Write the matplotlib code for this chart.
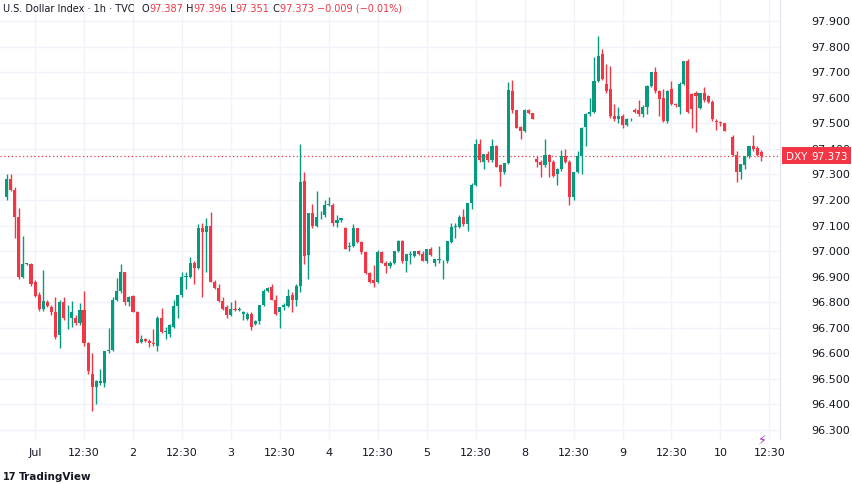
import matplotlib.pyplot as plt
from matplotlib.patches import Rectangle

# hourly candles, hour 0 = Jul 1 00:00 (bar index, gaps kept)
hours = list(range(-7, 170)) + list(range(171, 179))

opens = [97.21, 97.28, 97.24, 97.135, 96.90, 96.95, 96.95, 96.88, 96.83, 96.775,
         96.80, 96.78, 96.76, 96.67, 96.80, 96.745, 96.74, 96.74, 96.72, 96.77,
         96.64, 96.52, 96.47, 96.485, 96.485, 96.61, 96.615, 96.81, 96.845, 96.92,
         96.80, 96.825, 96.76, 96.645, 96.655, 96.65, 96.64, 96.63, 96.74, 96.685,
         96.675, 96.705, 96.785, 96.83, 96.90, 96.90, 96.955, 96.935, 97.09, 97.075,
         97.10, 96.88, 96.855, 96.805, 96.78, 96.75, 96.775, 96.77, 96.755, 96.735,
         96.755, 96.715, 96.725, 96.79, 96.845, 96.86, 96.81, 96.76, 96.78, 96.785,
         96.83, 96.81, 96.865, 97.275, 96.985, 97.15, 97.10, 97.14, 97.14, 97.18,
         97.18, 97.11, 97.12, 97.09, 97.015, 97.02, 97.09, 97.035, 96.995, 96.915,
         96.885, 96.88, 96.995, 96.955, 96.94, 96.955, 97.00, 97.04, 96.96, 96.985,
         96.98, 97.00, 96.99, 96.96, 97.01, 96.955, 96.965, 96.96, 96.96, 97.035,
         97.095, 97.095, 97.135, 97.105, 97.19, 97.26, 97.42, 97.35, 97.38, 97.355,
         97.41, 97.335, 97.31, 97.345, 97.625, 97.55, 97.485, 97.47, 97.55, 97.54,
         97.36, 97.35, 97.335, 97.375, 97.35, 97.30, 97.32, 97.37, 97.35, 97.21,
         97.31, 97.37, 97.485, 97.535, 97.545, 97.665, 97.77, 97.655, 97.635, 97.53,
         97.515, 97.53, 97.495, 97.515, 97.55, 97.55, 97.535, 97.565, 97.645, 97.70,
         97.625, 97.60, 97.51, 97.635, 97.575, 97.565, 97.655, 97.745, 97.615, 97.62,
         97.56, 97.62, 97.605, 97.585, 97.51, 97.505, 97.50, 97.445, 97.375, 97.31,
         97.335, 97.37, 97.41, 97.405, 97.387]
highs = [97.30, 97.30, 97.25, 97.17, 97.06, 96.955, 96.955, 96.885, 96.84, 96.925,
         96.81, 96.79, 96.82, 96.81, 96.82, 96.79, 96.805, 96.75, 96.795, 96.845,
         96.645, 96.60, 96.495, 96.54, 96.61, 96.70, 96.82, 96.895, 96.95, 96.92,
         96.825, 96.83, 96.765, 96.67, 96.66, 96.655, 96.695, 96.745, 96.777, 96.705,
         96.715, 96.81, 96.83, 96.92, 96.92, 96.975, 96.96, 97.106, 97.11, 97.13,
         97.153, 96.885, 96.87, 96.82, 96.79, 96.80, 96.81, 96.78, 96.765, 96.76,
         96.76, 96.73, 96.79, 96.85, 96.86, 96.87, 96.83, 96.78, 96.795, 96.85,
         96.84, 96.87, 97.42, 97.31, 97.15, 97.185, 97.235, 97.155, 97.20, 97.21,
         97.19, 97.14, 97.13, 97.095, 97.035, 97.105, 97.09, 97.04, 97.00, 96.92,
         96.945, 97.005, 97.00, 96.96, 96.96, 97.00, 97.045, 97.045, 96.99, 97.00,
         97.00, 97.005, 97.00, 97.01, 97.015, 96.97, 97.02, 96.965, 97.04, 97.11,
         97.11, 97.14, 97.165, 97.19, 97.265, 97.44, 97.44, 97.38, 97.39, 97.44,
         97.415, 97.34, 97.345, 97.66, 97.67, 97.55, 97.49, 97.555, 97.555, 97.54,
         97.37, 97.355, 97.44, 97.38, 97.355, 97.325, 97.395, 97.40, 97.355, 97.31,
         97.39, 97.485, 97.54, 97.60, 97.76, 97.84, 97.79, 97.73, 97.725, 97.575,
         97.565, 97.535, 97.52, 97.52, 97.56, 97.59, 97.57, 97.65, 97.70, 97.72,
         97.63, 97.635, 97.63, 97.665, 97.58, 97.66, 97.745, 97.75, 97.62, 97.625,
         97.62, 97.64, 97.61, 97.59, 97.515, 97.51, 97.50, 97.455, 97.39, 97.34,
         97.37, 97.41, 97.455, 97.41, 97.396]
lows = [97.20, 97.235, 97.05, 96.89, 96.895, 96.945, 96.865, 96.82, 96.765, 96.765,
        96.78, 96.75, 96.655, 96.62, 96.73, 96.695, 96.705, 96.71, 96.71, 96.63,
        96.52, 96.375, 96.40, 96.475, 96.47, 96.60, 96.61, 96.805, 96.836, 96.79,
        96.785, 96.76, 96.64, 96.64, 96.645, 96.625, 96.63, 96.61, 96.68, 96.655,
        96.665, 96.70, 96.74, 96.82, 96.85, 96.895, 96.87, 96.93, 96.82, 96.92,
        96.88, 96.85, 96.80, 96.77, 96.74, 96.745, 96.765, 96.765, 96.73, 96.73,
        96.69, 96.71, 96.715, 96.785, 96.84, 96.81, 96.75, 96.70, 96.77, 96.78,
        96.76, 96.785, 96.84, 96.95, 96.89, 97.09, 97.095, 97.125, 97.135, 97.175,
        97.10, 97.095, 97.115, 97.01, 97.00, 97.015, 97.03, 96.99, 96.91, 96.875,
        96.86, 96.875, 96.955, 96.915, 96.935, 96.95, 96.995, 96.955, 96.92, 96.95,
        96.975, 96.985, 96.96, 96.955, 96.98, 96.94, 96.955, 96.89, 96.955, 97.03,
        97.05, 97.09, 97.10, 97.08, 97.165, 97.255, 97.35, 97.32, 97.35, 97.35,
        97.33, 97.255, 97.30, 97.34, 97.54, 97.48, 97.44, 97.465, 97.535, 97.515,
        97.33, 97.29, 97.33, 97.29, 97.29, 97.26, 97.315, 97.345, 97.18, 97.20,
        97.305, 97.30, 97.41, 97.53, 97.54, 97.66, 97.67, 97.62, 97.52, 97.51,
        97.50, 97.48, 97.49, 97.51, 97.54, 97.53, 97.525, 97.535, 97.64, 97.62,
        97.53, 97.505, 97.50, 97.57, 97.565, 97.535, 97.65, 97.54, 97.48, 97.465,
        97.555, 97.585, 97.58, 97.51, 97.475, 97.49, 97.47, 97.37, 97.27, 97.28,
        97.32, 97.365, 97.39, 97.37, 97.351]
closes = [97.28, 97.24, 97.135, 96.90, 96.95, 96.95, 96.87, 96.825, 96.775, 96.805,
          96.785, 96.76, 96.665, 96.80, 96.74, 96.745, 96.76, 96.72, 96.77, 96.64,
          96.53, 96.47, 96.49, 96.49, 96.61, 96.615, 96.81, 96.845, 96.92, 96.80,
          96.82, 96.76, 96.64, 96.655, 96.65, 96.64, 96.635, 96.74, 96.685, 96.685,
          96.71, 96.785, 96.83, 96.90, 96.90, 96.955, 96.935, 97.09, 97.075, 97.10,
          96.88, 96.855, 96.805, 96.775, 96.75, 96.775, 96.77, 96.775, 96.76, 96.755,
          96.705, 96.725, 96.79, 96.845, 96.855, 96.81, 96.755, 96.78, 96.79, 96.825,
          96.81, 96.865, 97.27, 96.98, 97.15, 97.10, 97.135, 97.14, 97.18, 97.185,
          97.11, 97.12, 97.13, 97.01, 97.02, 97.09, 97.035, 96.995, 96.915, 96.88,
          96.875, 96.995, 96.955, 96.94, 96.955, 97.00, 97.04, 96.96, 96.99, 96.985,
          97.00, 96.99, 96.96, 97.01, 96.985, 96.97, 96.965, 96.96, 97.04, 97.095,
          97.10, 97.135, 97.105, 97.19, 97.26, 97.42, 97.355, 97.38, 97.355, 97.41,
          97.33, 97.31, 97.345, 97.63, 97.55, 97.48, 97.47, 97.55, 97.54, 97.515,
          97.35, 97.335, 97.375, 97.35, 97.295, 97.32, 97.37, 97.35, 97.21, 97.31,
          97.37, 97.48, 97.535, 97.545, 97.665, 97.765, 97.675, 97.625, 97.53, 97.515,
          97.53, 97.495, 97.515, 97.515, 97.545, 97.535, 97.565, 97.645, 97.70, 97.625,
          97.595, 97.51, 97.625, 97.575, 97.57, 97.655, 97.745, 97.545, 97.555, 97.605,
          97.62, 97.59, 97.585, 97.515, 97.505, 97.50, 97.47, 97.375, 97.31, 97.34,
          97.37, 97.41, 97.40, 97.375, 97.373]

tick_hours = list(range(0, 181, 12))
tick_labels = ["Jul", "12:30", "2", "12:30", "3", "12:30", "4", "12:30",
               "5", "12:30", "8", "12:30", "9", "12:30", "10", "12:30"]
price_ticks = [96.3 + 0.1 * k for k in range(17)]
last_price = 97.373

UP = "#089981"
DOWN = "#f23645"

fig = plt.figure(figsize=(8.52, 4.85), dpi=100)
ax = fig.add_axes([0, 45 / 485, 780 / 852, 440 / 485])

for h, o, hi, lo, c in zip(hours, opens, highs, lows, closes):
    col = UP if c >= o else DOWN
    ax.plot([h, h], [lo, hi], color=col, lw=1, solid_capstyle="butt", zorder=2)
    bottom = min(o, c)
    height = max(abs(c - o), 0.003)
    ax.add_patch(Rectangle((h - 0.38, bottom), 0.76, height, color=col, lw=0, zorder=3))

ax.set_xlim(-8.6, 182.6)
ax.set_ylim(96.265, 97.986)
ax.set_xticks(tick_hours)
ax.set_yticks(price_ticks)
ax.grid(True, color="#f0f3fa", lw=1)
ax.set_axisbelow(True)
ax.tick_params(length=0, labelbottom=False, labelleft=False)
for side in ["top", "left", "bottom"]:
    ax.spines[side].set_visible(False)
ax.spines["right"].set_color("#e0e3eb")

for h, lab in zip(tick_hours, tick_labels):
    ax.text(h, 96.265 - 0.05, lab, ha="center", va="center", fontsize=8,
            color="#131722", clip_on=False)
for p in price_ticks:
    ax.text(190.2, p, f"{p:.3f}", ha="left", va="center", fontsize=8,
            color="#131722", clip_on=False, zorder=1)

ax.axhline(last_price, color=DOWN, lw=0.9, ls=(0, (1, 2)), zorder=1)
ax.text(184.0, last_price, "DXY", ha="left", va="center", fontsize=7.5, color="white",
        clip_on=False, zorder=10,
        bbox=dict(boxstyle="square,pad=0.35", fc=DOWN, ec="none"))
ax.text(190.2, last_price, f"{last_price:.3f}", ha="left", va="center", fontsize=7.5,
        color="white", clip_on=False, zorder=10,
        bbox=dict(boxstyle="square,pad=0.35", fc=DOWN, ec="none"))

# header
fig.text(0.004, 0.992, "U.S. Dollar Index · 1h · TVC", ha="left", va="top",
         fontsize=7, color="#131722")
x0 = 0.166
for part, col in [("O", "#131722"), ("97.387", DOWN), (" H", "#131722"), ("97.396", DOWN),
                  (" L", "#131722"), ("97.351", DOWN), (" C", "#131722"),
                  ("97.373 −0.009 (−0.01%)", DOWN)]:
    t = fig.text(x0, 0.992, part, ha="left", va="top", fontsize=7, color=col)
    fig.canvas.draw()
    bb = t.get_window_extent()
    x0 += bb.width / fig.bbox.width
fig.text(0.022, 0.006, "TradingView", ha="left", va="bottom", fontsize=7.5,
         color="#131722", fontweight="bold")
fig.text(0.004, 0.006, "17", ha="left", va="bottom", fontsize=7,
         color="#131722", fontweight="bold")
fig.text(762 / 852, 0.093, "⚡", ha="center", va="center", fontsize=9, color="#9c27b0")

fig.savefig("out.png", dpi=100)
